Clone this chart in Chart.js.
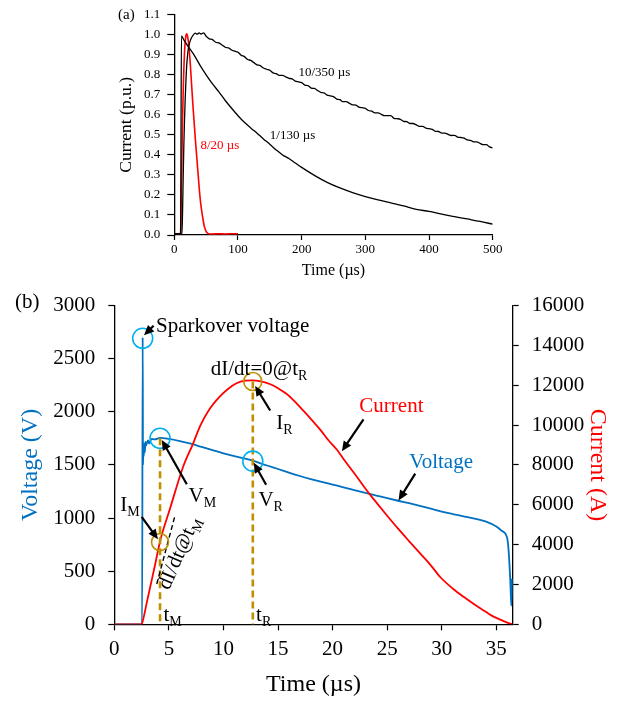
<!DOCTYPE html>
<html>
<head>
<meta charset="utf-8">
<script src="https://cdn.jsdelivr.net/npm/chart.js@4.4.1/dist/chart.umd.min.js"></script>
<style>
  html, body { margin: 0; padding: 0; background: #fff; }
  #wrap { position: relative; width: 625px; height: 704px; }
  .box { position: absolute; left: 0; width: 625px; }
  #boxA { top: 0; height: 280px; }
  #boxB { top: 280px; height: 424px; }
</style>
</head>
<body>
<div id="wrap">
  <div class="box" id="boxA"><canvas id="chartA"></canvas></div>
  <div class="box" id="boxB"><canvas id="chartB"></canvas></div>
</div>
<script>
// (a) normalised impulse currents, time in µs
const tA_1_130 = [0, 10, 10.5, 11.2, 15, 20, 30, 40, 50, 60, 70, 80, 90, 100, 110, 120, 130, 140, 150,
  160, 170, 180, 190, 200, 220, 240, 260, 280, 300, 320, 340, 360, 380, 400, 420, 440, 460, 480, 500];
const iA_1_130 = [0.005, 0.005, 0.45, 0.995, 0.975, 0.95, 0.905, 0.85, 0.80, 0.755, 0.715, 0.672, 0.633, 0.596, 0.563, 0.535, 0.508, 0.48, 0.453,
  0.425, 0.40, 0.382, 0.36, 0.338, 0.298, 0.263, 0.235, 0.212, 0.192, 0.175, 0.16, 0.145, 0.128, 0.118, 0.104, 0.092, 0.08, 0.068, 0.054];

const tA_10_350 = [0, 12, 13, 14, 15, 16, 17, 18, 19, 20, 22, 24, 27, 30, 33, 36, 39, 42, 46,
  50, 55, 60, 65, 70, 75, 80, 85, 90, 95,
  100, 105, 110, 115, 120, 125, 130, 135, 140, 145,
  150, 155, 160, 165, 170, 175, 180, 185, 190, 195,
  200, 205, 210, 215, 220, 225, 230, 235, 240, 245,
  250, 255, 260, 265, 270, 275, 280, 285, 290, 295,
  300, 305, 310, 315, 320, 325, 330, 335, 340, 345,
  350, 355, 360, 365, 370, 375, 380, 385, 390, 395,
  400, 405, 410, 415, 420, 425, 430, 435, 440, 445,
  450, 455, 460, 465, 470, 475, 480, 485, 490, 495, 500];
const iA_10_350 = [0.005, 0.005, 0.12, 0.3, 0.45, 0.57, 0.67, 0.75, 0.82, 0.87, 0.93, 0.96, 0.985, 1.0, 1.008, 1.003, 1.01, 1.004, 1.01,
  0.993, 0.980, 0.976, 0.963, 0.960, 0.949, 0.938, 0.935, 0.924, 0.918,
  0.913, 0.898, 0.891, 0.877, 0.872, 0.861, 0.850, 0.846, 0.834, 0.828,
  0.823, 0.810, 0.806, 0.797, 0.797, 0.790, 0.783, 0.780, 0.769, 0.765,
  0.761, 0.749, 0.746, 0.734, 0.732, 0.722, 0.713, 0.710, 0.699, 0.695,
  0.691, 0.679, 0.676, 0.666, 0.666, 0.658, 0.650, 0.649, 0.639, 0.636,
  0.633, 0.622, 0.619, 0.610, 0.610, 0.603, 0.596, 0.596, 0.596, 0.583,
  0.581, 0.578, 0.568, 0.566, 0.557, 0.557, 0.550, 0.543, 0.543, 0.534,
  0.531, 0.528, 0.518, 0.517, 0.509, 0.509, 0.503, 0.497, 0.498, 0.489,
  0.487, 0.484, 0.475, 0.473, 0.465, 0.465, 0.458, 0.451, 0.451, 0.440, 0.435];

const tA_8_20 = [0, 9, 10, 11, 12, 13, 14, 15, 16, 17, 18, 19.5, 21, 23, 25, 27, 29, 31, 33, 35, 37, 39,
  41, 43, 45, 47, 49, 51, 53, 56, 60, 70, 80, 90, 100];
const iA_8_20 = [0.005, 0.005, 0.02, 0.2, 0.4, 0.58, 0.72, 0.83, 0.91, 0.96, 0.99, 1.005, 0.99, 0.94, 0.86, 0.76, 0.66, 0.57, 0.48, 0.40, 0.32, 0.24,
  0.17, 0.12, 0.08, 0.045, 0.025, 0.013, 0.008, 0.005, 0.005, 0.006, 0.005, 0.006, 0.006];

// (b) measured voltage (V) and current (A), time in µs
const tB_volt = [0, 2.55, 2.6, 2.63, 2.66, 2.7, 2.75, 2.8, 2.85, 2.9, 3.0, 3.1, 3.2, 3.4, 3.7, 4.2,
  5, 6, 7, 8, 9, 10, 11, 12, 12.7, 14, 15, 16, 17, 18, 19, 20, 21, 22, 23, 24, 25,
  26, 27, 28, 29, 30, 31, 32, 33, 34, 35, 35.5, 36.0, 36.13, 36.28, 36.37, 36.45];
const vB_volt = [0, 0, 2700, 1500, 1650, 1580, 1700, 1620, 1720, 1680, 1710, 1730, 1700, 1745, 1740, 1755,
  1745, 1725, 1700, 1670, 1640, 1610, 1583, 1560, 1540, 1495, 1462, 1428, 1396, 1367, 1340, 1315, 1290, 1263, 1237, 1212, 1187,
  1163, 1140, 1115, 1088, 1060, 1038, 1017, 995, 968, 920, 880, 810, 687, 410, 175, 430];

const tB_curr = [0, 2.5, 2.6, 3.0, 3.3, 3.7, 4.19, 5.1, 6.3, 7.2, 7.9, 8.6, 9.7, 10.5, 11.2, 12.0, 12.65,
  13.4, 14.3, 15.0, 15.8, 16.5, 17.3, 18.1, 18.9, 19.6, 20.4, 21.0, 22.0, 23.0, 23.5, 24.0, 25.0,
  26.0, 27.0, 28.0, 29.0, 29.9, 31.0, 32.0, 32.9, 34.0, 34.5, 35.3, 36.0, 36.5];
const iB_curr = [0, 0, 150, 1150, 1900, 2900, 4160, 5800, 7900, 9050, 10000, 10700, 11450, 11850, 12100, 12230, 12250,
  12200, 12053, 11850, 11560, 11200, 10736, 10250, 9750, 9250, 8760, 8300, 7570, 6820, 6460, 6120, 5450,
  4800, 4180, 3570, 2960, 2350, 1800, 1380, 1035, 640, 459, 250, 80, 0];

// axis ranges: [min, max, step]
const ticksA_x = [0, 500, 100];
const ticksA_y = [0, 1.1, 0.1];
const ticksB_x = [0, 36.5, 5];
const ticksB_v = [0, 3000, 500];
const ticksB_i = [0, 16000, 2000];

const serif = "'Liberation Serif', 'Times New Roman', serif";
const BLUE = '#0070C0';
const RED = '#FF0000';
const GOLD = '#BF9000';
const CYAN = '#00B0F0';

const pts = (t, v) => t.map((x, k) => ({ x: x, y: v[k] }));

function axis(range, fontSize, tickLen, pad, fmt, extra) {
  return Object.assign({
    type: 'linear',
    min: range[0],
    max: range[1],
    ticks: { stepSize: range[2], includeBounds: false, color: '#000', padding: pad,
      font: { family: serif, size: fontSize }, callback: fmt },
    grid: { drawOnChartArea: false, drawTicks: true, tickLength: tickLen, color: '#000', tickWidth: 1.2 },
    border: { display: true, color: '#000', width: 1.3 }
  }, extra);
}

const plain = v => String(Math.round(v * 100) / 100);
const oneDec = v => v.toFixed(1);

function drawSub(ctx, main, sub, x, y, size, color, align) {
  ctx.font = size + 'px ' + serif;
  const w1 = ctx.measureText(main).width;
  ctx.font = Math.round(size * 0.68) + 'px ' + serif;
  const w2 = sub ? ctx.measureText(sub).width : 0;
  let x0 = x;
  if (align === 'center') x0 = x - (w1 + w2) / 2;
  ctx.fillStyle = color;
  ctx.textBaseline = 'middle';
  ctx.textAlign = 'left';
  ctx.font = size + 'px ' + serif;
  ctx.fillText(main, x0, y);
  if (sub) {
    ctx.font = Math.round(size * 0.68) + 'px ' + serif;
    ctx.fillText(sub, x0 + w1, y + size * 0.33);
  }
}

function arrow(ctx, x1, y1, x2, y2) {
  const a = Math.atan2(y2 - y1, x2 - x1);
  const L = 10, W = 4.5;
  ctx.strokeStyle = '#000';
  ctx.fillStyle = '#000';
  ctx.lineWidth = 2.2;
  ctx.setLineDash([]);
  ctx.beginPath();
  ctx.moveTo(x1, y1);
  ctx.lineTo(x2 - Math.cos(a) * L * 0.8, y2 - Math.sin(a) * L * 0.8);
  ctx.stroke();
  ctx.beginPath();
  ctx.moveTo(x2, y2);
  ctx.lineTo(x2 - Math.cos(a) * L - Math.sin(a) * W, y2 - Math.sin(a) * L + Math.cos(a) * W);
  ctx.lineTo(x2 - Math.cos(a) * L + Math.sin(a) * W, y2 - Math.sin(a) * L - Math.cos(a) * W);
  ctx.closePath();
  ctx.fill();
}

function circle(ctx, x, y, r, color) {
  ctx.setLineDash([]);
  ctx.strokeStyle = color;
  ctx.lineWidth = 1.6;
  ctx.beginPath();
  ctx.arc(x, y, r, 0, Math.PI * 2);
  ctx.stroke();
}

function dashed(ctx, x1, y1, x2, y2, color, w, dash) {
  ctx.strokeStyle = color;
  ctx.lineWidth = w;
  ctx.setLineDash(dash);
  ctx.beginPath();
  ctx.moveTo(x1, y1);
  ctx.lineTo(x2, y2);
  ctx.stroke();
  ctx.setLineDash([]);
}

// labels of chart (a)
const notesA = {
  id: 'notesA',
  afterDatasetsDraw(chart) {
    const { ctx, scales: { x, y } } = chart;
    ctx.save();
    drawSub(ctx, '10/350 µs', '', x.getPixelForValue(195), y.getPixelForValue(0.812), 13, '#000');
    drawSub(ctx, '1/130 µs', '', x.getPixelForValue(150), y.getPixelForValue(0.496), 13, '#000');
    drawSub(ctx, '8/20 µs', '', x.getPixelForValue(41), y.getPixelForValue(0.446), 13, RED);
    drawSub(ctx, '(a)', '', 118, 15, 15, '#000');
    ctx.restore();
  }
};

// annotations of chart (b)
const notesB = {
  id: 'notesB',
  afterDatasetsDraw(chart) {
    const { ctx, scales: { x, yV, yI } } = chart;
    const px = t => x.getPixelForValue(t);
    const pv = v => yV.getPixelForValue(v);
    const pi = i => yI.getPixelForValue(i);
    ctx.save();
    dashed(ctx, px(4.19), pv(1751), px(4.19), pv(0), GOLD, 2.6, [7, 4]);
    dashed(ctx, px(12.69), pi(12190), px(12.69), pi(0), GOLD, 2.6, [7, 4]);
    dashed(ctx, px(3.89), pv(379), px(5.57), pv(1027), '#000', 1.4, [5, 3]);

    circle(ctx, px(2.6), pv(2692), 10, CYAN);
    circle(ctx, px(4.19), pv(1751), 10, CYAN);
    circle(ctx, px(12.69), pv(1536), 10, CYAN);
    circle(ctx, px(12.69), pi(12190), 9, GOLD);
    circle(ctx, px(4.19), pv(774), 8.5, GOLD);

    arrow(ctx, px(3.6), pv(2810), px(2.72), pv(2722));
    arrow(ctx, px(14.28), pv(2013), px(12.9), pv(2244));
    arrow(ctx, px(6.64), pv(1319), px(4.35), pv(1735));
    arrow(ctx, px(13.91), pv(1313), px(12.78), pv(1520));
    arrow(ctx, px(2.51), pv(1011), px(4.0), pv(800));
    arrow(ctx, px(22.83), pv(1930), px(20.85), pv(1628));
    arrow(ctx, px(27.57), pv(1418), px(26.04), pv(1166));

    drawSub(ctx, 'Sparkover voltage', '', px(3.82), pv(2799), 21, '#000');
    drawSub(ctx, 'dI/dt=0@t', 'R', px(8.84), pv(2399), 21, '#000');
    drawSub(ctx, 'I', 'R', px(14.83), pv(1890), 21, '#000');
    drawSub(ctx, 'V', 'M', px(6.8), pv(1205), 21, '#000');
    drawSub(ctx, 'V', 'R', px(13.2), pv(1170), 21, '#000');
    drawSub(ctx, 'I', 'M', px(0.55), pv(1120), 21, '#000');
    drawSub(ctx, 't', 'M', px(4.5), pv(80), 21, '#000');
    drawSub(ctx, 't', 'R', px(12.99), pv(80), 21, '#000');
    drawSub(ctx, 'Current', '', px(22.45), pv(2047), 21, RED);
    drawSub(ctx, 'Voltage', '', px(27.02), pv(1520), 21, BLUE);

    ctx.save();
    ctx.translate(px(5.95), pv(670));
    ctx.rotate(-66.6 * Math.PI / 180);
    drawSub(ctx, 'dI/dt@t', 'M', 0, 0, 21, '#000', 'center');
    ctx.restore();

    drawSub(ctx, '(b)', '', 15, 22, 21, '#000');
    ctx.restore();
  }
};

new Chart(document.getElementById('chartA'), {
  type: 'line',
  data: {
    datasets: [
      { data: pts(tA_1_130, iA_1_130), borderColor: '#000', borderWidth: 1.3 },
      { data: pts(tA_10_350, iA_10_350), borderColor: '#000', borderWidth: 1.3 },
      { data: pts(tA_8_20, iA_8_20), borderColor: RED, borderWidth: 1.6 }
    ]
  },
  options: {
    responsive: true,
    maintainAspectRatio: false,
    animation: false,
    layout: { padding: { left: 116, right: 132.3, top: 11, bottom: 0 } },
    elements: { point: { radius: 0 }, line: { cubicInterpolationMode: 'monotone' } },
    plugins: { legend: { display: false }, tooltip: { enabled: false } },
    scales: {
      x: axis(ticksA_x, 13, 5, 2, plain, {
        title: { display: true, text: 'Time (µs)', color: '#000', padding: 0, font: { family: serif, size: 16 } },
        afterFit: s => { s.height = 45; }
      }),
      y: axis(ticksA_y, 13, 7, 7, oneDec, {
        title: { display: true, text: 'Current (p.u.)', color: '#000', padding: 0, font: { family: serif, size: 17.5 } },
        afterFit: s => { s.width = 58.3; }
      })
    }
  },
  plugins: [notesA]
});

new Chart(document.getElementById('chartB'), {
  type: 'line',
  data: {
    datasets: [
      { data: pts(tB_curr, iB_curr), yAxisID: 'yI', borderColor: RED, borderWidth: 1.8 },
      { data: pts(tB_volt, vB_volt), yAxisID: 'yV', borderColor: BLUE, borderWidth: 1.8 }
    ]
  },
  options: {
    responsive: true,
    maintainAspectRatio: false,
    animation: false,
    layout: { padding: { left: 0, right: 0, top: 20, bottom: 0 } },
    elements: { point: { radius: 0 }, line: { cubicInterpolationMode: 'monotone' } },
    plugins: { legend: { display: false }, tooltip: { enabled: false } },
    scales: {
      x: axis(ticksB_x, 21, 6, 7, plain, {
        title: { display: true, text: 'Time (µs)', color: '#000', padding: { top: 0, bottom: 5 }, font: { family: serif, size: 24 } },
        afterFit: s => { s.height = 79.7; }
      }),
      yV: axis(ticksB_v, 21, 6, 13, plain, {
        position: 'left',
        title: { display: true, text: 'Voltage (V)', color: BLUE, padding: { top: 16, bottom: 0 }, font: { family: serif, size: 24 } },
        afterFit: s => { s.width = 114.3; }
      }),
      yI: axis(ticksB_i, 21, 6, 13, plain, {
        position: 'right',
        title: { display: true, text: 'Current (A)', color: RED, padding: { top: 13, bottom: 0 }, font: { family: serif, size: 24 } },
        afterFit: s => { s.width = 112.3; }
      })
    }
  },
  plugins: [notesB]
});
</script>
</body>
</html>
